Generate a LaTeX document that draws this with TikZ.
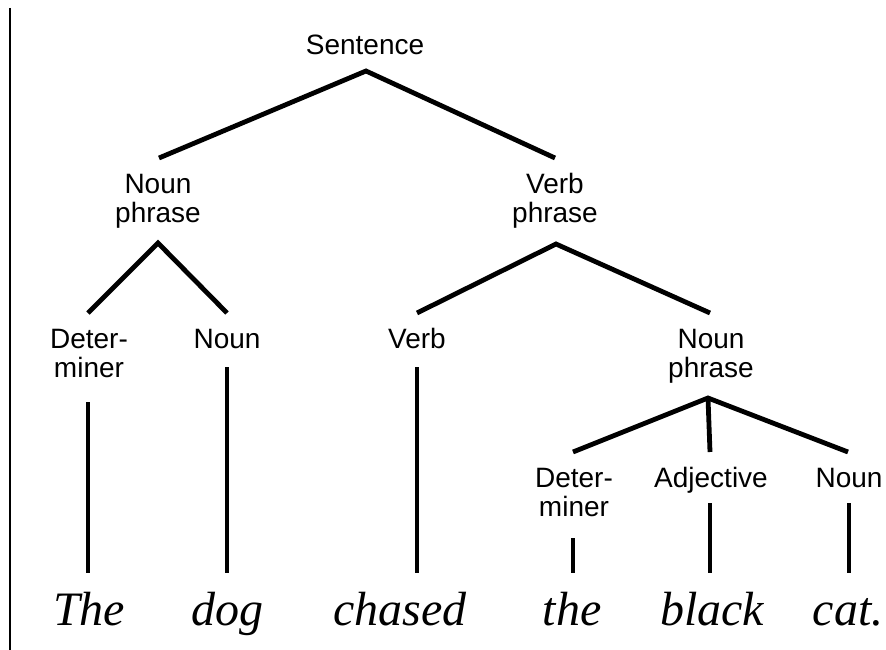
\documentclass[tikz,border=0pt]{standalone}
\usepackage{fontspec}
\setmainfont{Liberation Serif}
\newfontfamily\labfont{Liberation Sans}
\usetikzlibrary{calc}
\begin{document}
\begin{tikzpicture}[x=1pt,y=-1pt,
  lab/.style={font=\labfont\fontsize{28}{29}\selectfont, align=center, anchor=base, inner sep=0pt},
  word/.style={font=\itshape\fontsize{48}{50}\selectfont, anchor=base, inner sep=0pt},
  branch/.style={line width=4.8pt, line join=miter, line cap=butt},
  rule/.style={line width=2pt}]
\useasboundingbox (0,0) rectangle (886,650);
\fill[white] (0,0) rectangle (886,650);
\coordinate (rtop) at (10,8);
\coordinate (rbot) at (10,650);
\draw[rule] (rtop) -- (rbot);
% labels (base anchor = baseline of the last line)
\node[lab] (s)    at (365,55)  {Sentence};
\node[lab] (np1)  at (158,222) {Noun\\phrase};
\node[lab] (vp)   at (555,222) {Verb\\phrase};
\node[lab] (det1) at (89,377)  {Deter-\\miner};
\node[lab] (n1)   at (227,348) {Noun};
\node[lab] (v)    at (417,348) {Verb};
\node[lab] (np2)  at (711,377) {Noun\\phrase};
\node[lab] (det2) at (574,516) {Deter-\\miner};
\node[lab] (adj)  at (711,487) {Adjective};
\node[lab] (n2)   at (849,487) {Noun};
% words
\node[word] (w1) at (89,625)  {The};
\node[word] (w2) at (227,625) {dog};
\node[word] (w3) at (400,625) {chased};
\node[word] (w4) at (572,625) {the};
\node[word] (w5) at (712,625) {black};
\node[word] (w6) at (848,625) {cat.};
% branches
\draw[branch] ($(np1.base)+(1,-64)$) -- ($(s.base)+(1,16)$) -- ($(vp.base)+(0,-64)$);
\draw[branch] ($(det1.base)+(-1,-64)$) -- ($(np1.base)+(0,21)$) -- ($(n1.base)+(0,-35)$);
\draw[branch] ($(v.base)+(0,-35)$) -- ($(vp.base)+(1,22)$) -- ($(np2.base)+(-1,-64)$);
\draw[branch] ($(det2.base)+(-1,-64)$) -- ($(np2.base)+(-3,21)$) -- ($(n2.base)+(-1,-35)$);
\draw[branch] ($(np2.base)+(-3,21)$) -- ($(adj.base)+(-1,-35)$);
% terminal lines
\draw[branch] ($(det1.base)+(-1,25)$) -- ($(w1.base)+(-1,-52)$);
\draw[branch] ($(n1.base)+(0,19)$) -- ($(w2.base)+(0,-52)$);
\draw[branch] ($(v.base)+(0,19)$) -- ($(w3.base)+(17,-52)$);
\draw[branch] ($(det2.base)+(-1,22)$) -- ($(w4.base)+(1,-52)$);
\draw[branch] ($(adj.base)+(-1,16)$) -- ($(w5.base)+(-2,-52)$);
\draw[branch] ($(n2.base)+(0,16)$) -- ($(w6.base)+(1,-52)$);
\end{tikzpicture}
\end{document}
